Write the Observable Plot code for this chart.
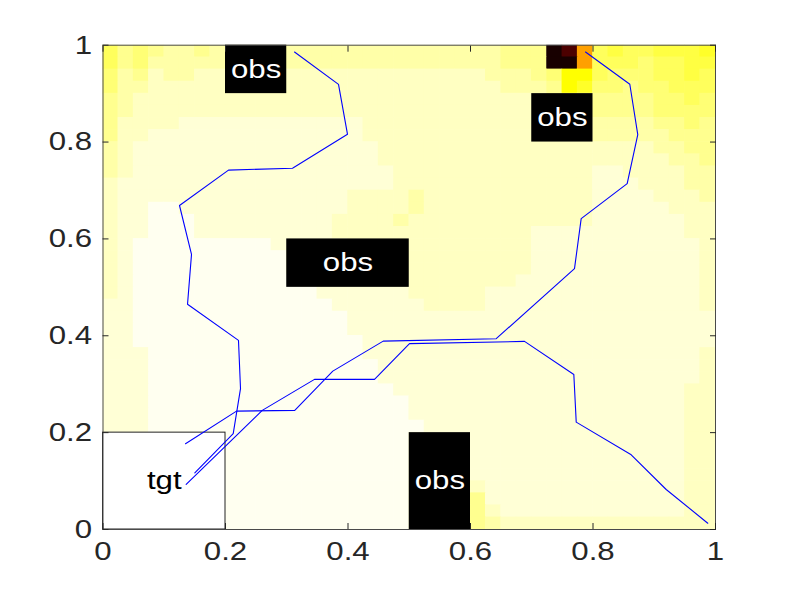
<!DOCTYPE html>
<html>
<head>
<meta charset="utf-8">
<script src="https://cdn.jsdelivr.net/npm/d3@7"></script>
<script src="https://cdn.jsdelivr.net/npm/@observablehq/plot@0.6"></script>
<style>
  body { margin: 0; background: #ffffff; }
  #chart svg { display: block; }
</style>
</head>
<body>
<div id="chart"></div>
<script>
// ---------------- data ----------------
// heat field, 40 x 40 cells of 0.025, top row first (y from 1 down to 0)
const cellSize = 0.025;
const heatRows = [
  "35456656 6666 6666666666666655 5kro 32332221",
  "35466666 6666 6666666666666655 5kko 33343322",
  "46576677 7777 7777777777777666 5400 34443323",
  "46677777 7777 7777777777777766 6501 44544333",
  "56777777 7777 7777777777777777 7666 55554434",
  "56777777 7777 7777777777777777 7666 55554444",
  "57777888 8888 8888877777777777 7777 66665545",
  "57788888 8888 8888877777777777 7777 66666555",
  "67888888 8888 8888887777777777 7777 77776655",
  "67888888 8888 8888887777777777 7777 77777665",
  "67888888 8888 8888888777777777 7777 88777766",
  "78888888 8888 8888888777777777 7777 88877766",
  "78888888 8888 8888777767777777 7777 88887776",
  "78899888 8888 8888777767777777 7777 88888777",
  "78899988 8888 8887777677777777 7777 88888877",
  "78899988 8888 8887777777777777 8888 88888877",
  "78999999 9998 8888777777777777 8888 88888887",
  "78999999 9999 8888877777777777 8888 88888887",
  "78999999 9999 8888887777777777 8888 88888887",
  "78999999 9999 9888888777777778 8888 88888887",
  "78999999 9999 9988888877777888 8888 88888887",
  "88999999 9999 9998888887777888 8888 88888887",
  "88999999 9999 9999888888888888 8888 88888888",
  "88999999 9999 9999888888888888 8888 88888888",
  "88999999 9999 9999988888888888 8888 88888888",
  "88899999 9999 9999988888888888 8888 88888887",
  "88899999 9999 9999998888888888 8888 88888887",
  "88899999 9999 9999998888888888 8888 88888887",
  "88899999 9999 9999999888888888 8888 88888877",
  "88899999 9999 9999999988888888 8888 88888877",
  "88899999 9999 9999999988888888 8888 88888877",
  "88899999 9999 9999999998888888 8888 88888877",
  "99999999 9999 9999999988888888 8888 88888877",
  "99999999 9999 9999999988888888 8888 88888877",
  "99999999 9999 9999999988888888 8888 88888877",
  "99999999 9999 9999999988888888 8888 88888877",
  "99999999 9999 9999999988887888 8888 88888877",
  "99999999 9999 9999999988885888 8888 88888877",
  "99999999 9999 9999999988885788 8888 88888877",
  "99999999 9999 9999999988885677 7777 77777777"
];
const levelValues = {
  "0": 0.750, "1": 0.790, "2": 0.815, "3": 0.840, "4": 0.865,
  "5": 0.890, "6": 0.915, "7": 0.940, "8": 0.960, "9": 0.985,
  "w": 1.0, "k": 0.02, "r": 0.10, "o": 0.61
};

// obstacles
const obsX1 = [0.2, 0.7, 0.3, 0.5];
const obsX2 = [0.3, 0.8, 0.5, 0.6];
const obsY1 = [0.9, 0.8, 0.5, 0.0];
const obsY2 = [1.0, 0.9, 0.6, 0.2];
const obsLabel = "obs";

// target
const tgtX1 = 0.0, tgtX2 = 0.2, tgtY1 = 0.0, tgtY2 = 0.2;
const tgtLabel = "tgt";

// trajectories
const trajAX = [0.3127, 0.3845, 0.3992, 0.3094, 0.2049, 0.1249, 0.1445, 0.1380, 0.2212, 0.2245, 0.2126, 0.1499];
const trajAY = [0.986, 0.919, 0.816, 0.746, 0.742, 0.669, 0.568, 0.465, 0.3905, 0.291, 0.198, 0.117];
const trajBX = [0.1358, 0.2600, 0.3453, 0.4433, 0.5004, 0.6882, 0.7687, 0.7726, 0.8624, 0.9195, 0.9874];
const trajBY = [0.093, 0.246, 0.310, 0.310, 0.3837, 0.3884, 0.3202, 0.2217, 0.1543, 0.0826, 0.013];
const trajCX = [0.1347, 0.2180, 0.3131, 0.3752, 0.4575, 0.6420, 0.7698, 0.7807, 0.8558, 0.8731, 0.8601, 0.7878];
const trajCY = [0.177, 0.2444, 0.2459, 0.327, 0.389, 0.394, 0.5386, 0.642, 0.7143, 0.8155, 0.9194, 0.986];

// axes
const tickValues = [0, 0.2, 0.4, 0.6, 0.8, 1];
const tickLabels = ["0", "0.2", "0.4", "0.6", "0.8", "1"];

// ---------------- build tables ----------------
const cells = [];
heatRows.forEach((row, j) => {
  const chars = row.replace(/ /g, "").split("");
  chars.forEach((ch, i) => {
    cells.push({
      x1: i * cellSize, x2: (i + 1) * cellSize,
      y1: 1 - (j + 1) * cellSize, y2: 1 - j * cellSize,
      v: levelValues[ch]
    });
  });
});
const obstacles = obsX1.map((d, i) => ({x1: obsX1[i], x2: obsX2[i], y1: obsY1[i], y2: obsY2[i], label: obsLabel}));
const target = [{x1: tgtX1, x2: tgtX2, y1: tgtY1, y2: tgtY2, label: tgtLabel}];
const traj = [];
[[trajAX, trajAY], [trajBX, trajBY], [trajCX, trajCY]].forEach(([xs, ys], k) => {
  xs.forEach((x, i) => traj.push({id: k, x, y: ys[i]}));
});
const fmt = (d) => tickLabels[tickValues.indexOf(d)];

const axisColor = "#262626";
const chart = Plot.plot({
  width: 790,
  height: 595,
  marginLeft: 102.5,
  marginRight: 75,
  marginTop: 44.7,
  marginBottom: 66,
  style: {fontFamily: "'Liberation Sans', Arial, sans-serif", fontSize: "26px", background: "#ffffff", color: axisColor},
  x: {domain: [0, 1], label: null},
  y: {domain: [0, 1], label: null},
  color: {type: "linear", domain: [0, 0.375, 0.75, 1], range: ["#0b0000", "#ff0000", "#ffff00", "#ffffff"], interpolate: "rgb"},
  marks: [
    Plot.rect(cells, {x1: "x1", x2: "x2", y1: "y1", y2: "y2", fill: "v", inset: -0.3, clip: true}),
    Plot.rect(obstacles, {x1: "x1", x2: "x2", y1: "y1", y2: "y2", fill: "black"}),
    Plot.rect(target, {x1: "x1", x2: "x2", y1: "y1", y2: "y2", fill: "white", stroke: "#222", strokeWidth: 1}),
    Plot.line(traj, {x: "x", y: "y", z: "id", stroke: "#0000ff", strokeWidth: 1.1}),
    Plot.text(obstacles, {x: (d) => (d.x1 + d.x2) / 2, y: (d) => (d.y1 + d.y2) / 2, text: "label", fill: "white", fontSize: 26}),
    Plot.text(target, {x: (d) => (d.x1 + d.x2) / 2, y: (d) => (d.y1 + d.y2) / 2, text: "label", fill: "black", fontSize: 26}),
    Plot.frame({stroke: "#4a4a4a", strokeWidth: 1}),
    Plot.axisX({anchor: "bottom", ticks: tickValues, tickFormat: fmt, tickSize: -6, tickPadding: 18, stroke: axisColor, fill: axisColor}),
    Plot.axisX({anchor: "top", ticks: tickValues, tickFormat: () => "", tickSize: -6, stroke: axisColor}),
    Plot.axisY({anchor: "left", ticks: tickValues, tickFormat: fmt, tickSize: -6, tickPadding: 17, stroke: axisColor, fill: axisColor}),
    Plot.axisY({anchor: "right", ticks: tickValues, tickFormat: () => "", tickSize: -6, stroke: axisColor})
  ]
});
document.getElementById("chart").appendChild(chart);

// MATLAB-exported glyphs are horizontally wider: stretch text about its anchor
chart.querySelectorAll("text").forEach((t) => {
  const tr = t.getAttribute("transform") || "";
  t.setAttribute("transform", tr + " scale(1.2,1)");
});
</script>
</body>
</html>
